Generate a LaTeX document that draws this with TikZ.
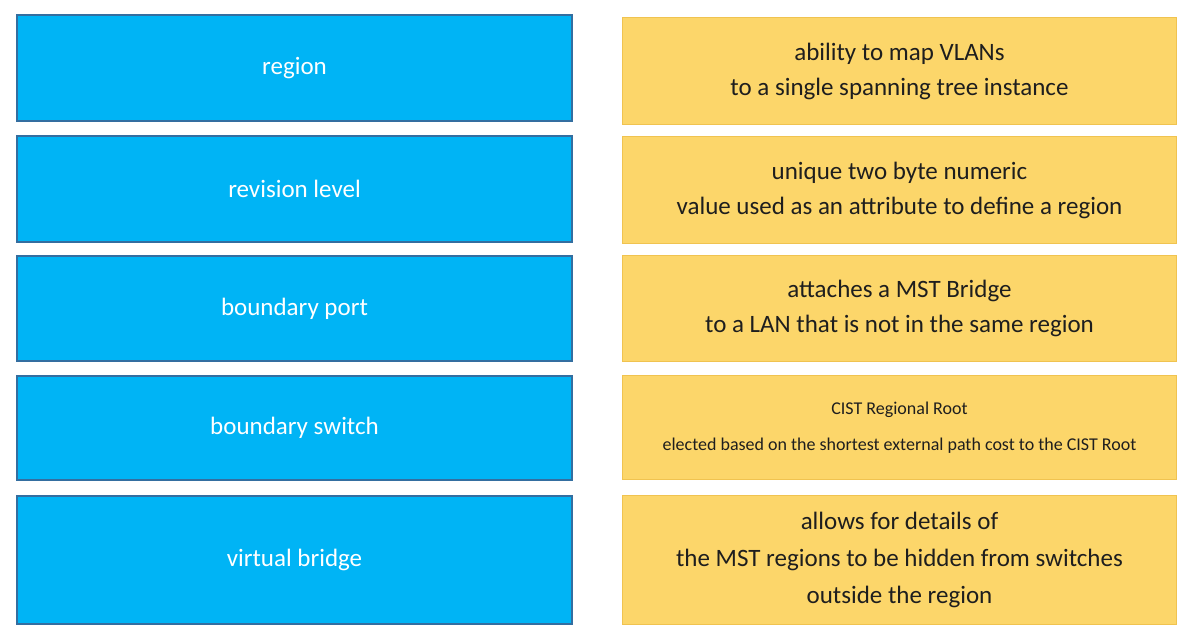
\documentclass[tikz,border=0pt]{standalone}
\usepackage{fontspec}
\setmainfont{Carlito}
\usetikzlibrary{positioning}
\definecolor{termblue}{RGB}{0,180,245}
\definecolor{termedge}{RGB}{52,110,160}
\definecolor{defyellow}{RGB}{252,214,106}
\definecolor{defedge}{RGB}{240,195,80}
\definecolor{deftext}{RGB}{30,30,30}

\begin{document}
\begin{tikzpicture}[x=1pt,y=1pt,
    term/.style={draw=termedge,line width=1.6pt,outer sep=0pt,fill=termblue,rectangle,minimum width=555.4pt,text=white,font=\fontsize{25}{34}\selectfont},
    def/.style={draw=defedge,line width=0.8pt,outer sep=0pt,fill=defyellow,rectangle,minimum width=554.2pt,text=deftext,align=center,font=\fontsize{25}{35}\selectfont}]
    \useasboundingbox (0,0) rectangle (1184,-642);
        % terms
        \node(region)[term,minimum height=106.4pt] at (294.5,-68) {region};
        \node(revision)[below =14.6pt of region,term,minimum height=106.4pt]{revision level};
        \node(bport)[below =13.6pt of revision,term,minimum height=105.4pt]{boundary port};
        \node(bswitch)[below =14.6pt of bport,term,minimum height=104.4pt]{boundary switch};
        \node(vbridge)[below =15.6pt of bswitch,term,minimum height=128.4pt]{virtual bridge};
        % definitions
        \node(mapvlans)[def,minimum height=107.2pt] at (899.5,-71) {ability to map VLANs\\to a single spanning tree instance};
        \node(twobyte)[below =11.8pt of mapvlans,def,minimum height=107.2pt]{unique two byte numeric\\value used as an attribute to define a region};
        \node(attaches)[below =11.8pt of twobyte,def,minimum height=106.2pt]{attaches a MST Bridge\\to a LAN that is not in the same region};
        \node(cistroot)[below =13.8pt of attaches,def,minimum height=104.2pt,font=\fontsize{18}{36}\selectfont]{CIST Regional Root\\elected based on the shortest external path cost to the CIST Root};
        \node(hidden)[below =15.8pt of cistroot,def,minimum height=129.2pt,font=\fontsize{25}{37}\selectfont]{allows for details of\\the MST regions to be hidden from switches\\outside the region};
    \end{tikzpicture}
\end{document}
